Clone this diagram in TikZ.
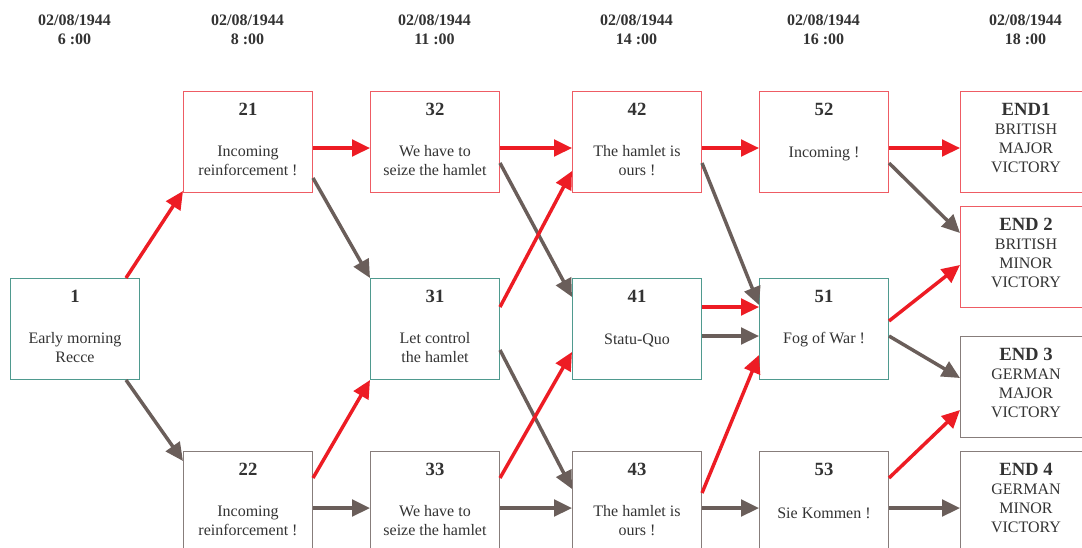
\documentclass[tikz,border=0pt]{standalone}
\usepackage{fontspec}
\setmainfont{Liberation Serif}
\usetikzlibrary{arrows.meta,calc}
\definecolor{redA}{HTML}{ED1C24}
\definecolor{grayA}{HTML}{6A5E5A}
\definecolor{redB}{HTML}{EE5C64}
\definecolor{tealB}{HTML}{4F9A8F}
\definecolor{grayB}{HTML}{877D7B}
\definecolor{txt}{HTML}{333333}
\begin{document}
\begin{tikzpicture}[x=0.75pt,y=-0.75pt,
  box/.style={rectangle, draw, line width=0.75pt, minimum width=96.75pt, minimum height=75.75pt, inner sep=0pt, anchor=north west},
  rbox/.style={box, draw=redB},
  tbox/.style={box, draw=tealB},
  gbox/.style={box, draw=grayB},
  ebox/.style={minimum width=98.25pt},
  num/.style={font=\bfseries\fontsize{14}{16}\selectfont, text=txt, inner sep=0pt},
  body/.style={font=\fontsize{12}{14.25}\selectfont, text=txt, align=center, inner sep=0pt},
  hdr/.style={font=\bfseries\fontsize{12}{14.25}\selectfont, text=txt, align=center, inner sep=0pt},
  ra/.style={draw=redA, line width=2.6pt, -{Triangle[length=13.5pt,width=12.5pt]}},
  ga/.style={draw=grayA, line width=2.6pt, -{Triangle[length=13.5pt,width=12.5pt]}}]
\fill[white] (0,0) rectangle (1082,547);
\useasboundingbox (0,0) rectangle (1082,547);

% headers
\node[hdr] (h1) at (74.5,29.5) {02/08/1944\\6 :00};
\node[hdr] (h2) at (247.5,29.5) {02/08/1944\\8 :00};
\node[hdr] (h3) at (434.5,29.5) {02/08/1944\\11 :00};
\node[hdr] (h4) at (636.5,29.5) {02/08/1944\\14 :00};
\node[hdr] (h5) at (823.5,29.5) {02/08/1944\\16 :00};
\node[hdr] (h6) at (1025.5,29.5) {02/08/1944\\18 :00};

% boxes
\node[tbox] (b1) at (10,278) {};
\node[rbox] (b21) at (183,91) {};
\node[gbox] (b22) at (183,451) {};
\node[rbox] (b32) at (370,91) {};
\node[tbox] (b31) at (370,278) {};
\node[gbox] (b33) at (370,451) {};
\node[rbox] (b42) at (572,91) {};
\node[tbox] (b41) at (572,278) {};
\node[gbox] (b43) at (572,451) {};
\node[rbox] (b52) at (759,91) {};
\node[tbox] (b51) at (759,278) {};
\node[gbox] (b53) at (759,451) {};
\node[rbox,ebox] (e1) at (960,91) {};
\node[rbox,ebox] (e2) at (960,206) {};
\node[gbox,ebox] (e3) at (960,336) {};
\node[gbox,ebox] (e4) at (960,451) {};

% box texts
\node[num] (n1) at ($(b1.north)+(0,18)$) {1};
\node[body] (x1) at ($(b1.north)+(0,70)$) {Early morning\\Recce};
\node[num] (n21) at ($(b21.north)+(0,18)$) {21};
\node[body] (x21) at ($(b21.north)+(0,70)$) {Incoming\\reinforcement !};
\node[num] (n22) at ($(b22.north)+(0,18)$) {22};
\node[body] (x22) at ($(b22.north)+(0,70)$) {Incoming\\reinforcement !};
\node[num] (n32) at ($(b32.north)+(0,18)$) {32};
\node[body] (x32) at ($(b32.north)+(0,70)$) {We have to\\seize the hamlet};
\node[num] (n31) at ($(b31.north)+(0,18)$) {31};
\node[body] (x31) at ($(b31.north)+(0,70)$) {Let control\\the hamlet};
\node[num] (n33) at ($(b33.north)+(0,18)$) {33};
\node[body] (x33) at ($(b33.north)+(0,70)$) {We have to\\seize the hamlet};
\node[num] (n42) at ($(b42.north)+(0,18)$) {42};
\node[body] (x42) at ($(b42.north)+(0,70)$) {The hamlet is\\ours !};
\node[num] (n41) at ($(b41.north)+(0,18)$) {41};
\node[body] (x41) at ($(b41.north)+(0,62)$) {Statu-Quo};
\node[num] (n43) at ($(b43.north)+(0,18)$) {43};
\node[body] (x43) at ($(b43.north)+(0,70)$) {The hamlet is\\ours !};
\node[num] (n52) at ($(b52.north)+(0,18)$) {52};
\node[body] (x52) at ($(b52.north)+(0,62.5)$) {Incoming !};
\node[num] (n51) at ($(b51.north)+(0,18)$) {51};
\node[body] (x51) at ($(b51.north)+(0,62)$) {Fog of War !};
\node[num] (n53) at ($(b53.north)+(0,18)$) {53};
\node[body] (x53) at ($(b53.north)+(0,62)$) {Sie Kommen !};
\node[num] (ne1) at ($(e1.north)+(0,18)$) {END1};
\node[body] (xe1) at ($(e1.north)+(0,57)$) {BRITISH\\MAJOR\\VICTORY};
\node[num] (ne2) at ($(e2.north)+(0,18)$) {END 2};
\node[body] (xe2) at ($(e2.north)+(0,57)$) {BRITISH\\MINOR\\VICTORY};
\node[num] (ne3) at ($(e3.north)+(0,18)$) {END 3};
\node[body] (xe3) at ($(e3.north)+(0,57)$) {GERMAN\\MAJOR\\VICTORY};
\node[num] (ne4) at ($(e4.north)+(0,18)$) {END 4};
\node[body] (xe4) at ($(e4.north)+(0,57)$) {GERMAN\\MINOR\\VICTORY};

% gray connectors
\draw[ga] ($(b1.south east)+(-14,0)$) -- ($(b22.north west)+(0,10)$);
\draw[ga] ($(b21.north east)+(0,87)$) -- (b31.north west);
\draw[ga] ($(b32.north east)+(0,72)$) -- ($(b41.north west)+(0,19)$);
\draw[ga] ($(b31.north east)+(0,72)$) -- ($(b43.north west)+(0,38)$);
\draw[ga] ($(b22.north east)+(0,57)$) -- ($(b33.north west)+(0,57)$);
\draw[ga] ($(b33.north east)+(0,57)$) -- ($(b43.north west)+(0,57)$);
\draw[ga] ($(b41.north east)+(0,58)$) -- ($(b51.north west)+(0,58)$);
\draw[ga] ($(b42.north east)+(0,72)$) -- ($(b51.north west)+(0,27)$);
\draw[ga] ($(b43.north east)+(0,57)$) -- ($(b53.north west)+(0,57)$);
\draw[ga] ($(b52.north east)+(0,72)$) -- ($(e2.north west)+(0,27)$);
\draw[ga] ($(b51.north east)+(0,58)$) -- ($(e3.north west)+(0,42)$);
\draw[ga] ($(b53.north east)+(0,57)$) -- ($(e4.north west)+(0,57)$);

% red connectors
\draw[ra] ($(b1.north east)+(-14,0)$) -- ($(b21.south west)+(0,-2)$);
\draw[ra] ($(b21.north east)+(0,57)$) -- ($(b32.north west)+(0,57)$);
\draw[ra] ($(b32.north east)+(0,57)$) -- ($(b42.north west)+(0,57)$);
\draw[ra] ($(b42.north east)+(0,57)$) -- ($(b52.north west)+(0,57)$);
\draw[ra] ($(b52.north east)+(0,57)$) -- ($(e1.north west)+(0,57)$);
\draw[ra] ($(b22.north east)+(0,27)$) -- (b31.south west);
\draw[ra] ($(b31.north east)+(0,29)$) -- ($(b42.north west)+(0,80)$);
\draw[ra] ($(b33.north east)+(0,27)$) -- ($(b41.north west)+(0,74)$);
\draw[ra] ($(b41.north east)+(0,29)$) -- ($(b51.north west)+(0,29)$);
\draw[ra] ($(b43.north east)+(0,42)$) -- ($(b51.north west)+(0,77)$);
\draw[ra] ($(b51.north east)+(0,43)$) -- ($(e2.north west)+(0,59)$);
\draw[ra] ($(b53.north east)+(0,27)$) -- ($(e3.north west)+(0,74)$);
\end{tikzpicture}
\end{document}
